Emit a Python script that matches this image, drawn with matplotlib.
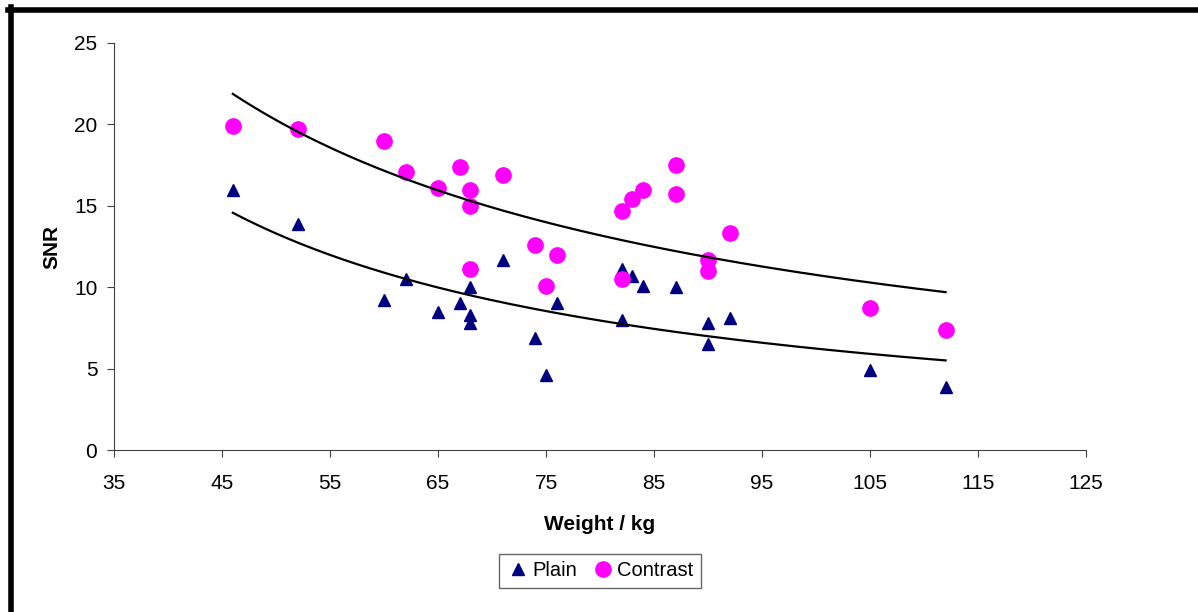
"""
SNR vs peso — serie Plain y Contrast con líneas de tendencia potencial.
"""
import matplotlib
matplotlib.use('Agg')
import matplotlib.pyplot as plt
from matplotlib.lines import Line2D
import numpy as np

plt.rcParams['font.family'] = ['Liberation Sans', 'DejaVu Sans']

# ── Datos (peso kg, SNR) ─────────────────────────────────────────────────────
plain_w = [46, 52, 60, 62, 65, 67, 68, 68, 68, 71, 74, 75, 76,
           82, 82, 83, 84, 87, 90, 90, 92, 105, 112]
plain_snr = [16.0, 13.9, 9.2, 10.5, 8.5, 9.0, 10.0, 8.3, 7.8, 11.7, 6.9, 4.6, 9.0,
             11.1, 8.0, 10.7, 10.1, 10.0, 7.8, 6.5, 8.1, 4.9, 3.9]

contrast_w = [46, 52, 60, 62, 65, 67, 68, 68, 68, 71, 74, 75, 76,
              82, 82, 83, 84, 87, 87, 90, 90, 92, 105, 112]
contrast_snr = [19.9, 19.7, 19.0, 17.1, 16.1, 17.4, 16.0, 15.0, 11.1, 16.9, 12.6, 10.1, 12.0,
                14.7, 10.5, 15.4, 16.0, 17.5, 15.7, 11.7, 11.0, 13.3, 8.7, 7.4]

x_ticks = [35, 45, 55, 65, 75, 85, 95, 105, 115, 125]
y_ticks = [0, 5, 10, 15, 20, 25]


def power_fit(x, y):
    # tendencia tipo Excel: y = a * x^b (ajuste lineal en log-log)
    b, ln_a = np.polyfit(np.log(x), np.log(y), 1)
    xs = np.linspace(min(x), max(x), 200)
    return xs, np.exp(ln_a) * xs ** b


fig = plt.figure(figsize=(11.98, 6.12), dpi=100)
ax = fig.add_axes([114 / 1198, 1 - 450 / 612, 972 / 1198, 407 / 612])

ax.plot(plain_w, plain_snr, '^', color='#000080', markersize=9,
        linestyle='none', label='Plain', zorder=3)
ax.plot(contrast_w, contrast_snr, 'o', color='#FF00FF', markersize=11,
        linestyle='none', label='Contrast', zorder=3)

for x, y in [(plain_w, plain_snr), (contrast_w, contrast_snr)]:
    xs, ys = power_fit(x, y)
    ax.plot(xs, ys, color='black', linewidth=1.6, zorder=4)

ax.set_xlim(35, 125)
ax.set_ylim(0, 25)
ax.set_xticks(x_ticks)
ax.set_yticks(y_ticks)
ax.tick_params(labelsize=15, direction='out', length=5, width=0.8,
               color='#404040')
ax.tick_params(axis='x', pad=12)
ax.tick_params(axis='y', pad=7)
for side in ('top', 'right'):
    ax.spines[side].set_visible(False)
for side in ('left', 'bottom'):
    ax.spines[side].set_color('#404040')
    ax.spines[side].set_linewidth(0.8)

fig.text(600 / 1198, 1 - 525 / 612, 'Weight / kg', fontsize=15,
         fontweight='bold', ha='center', va='center')
fig.text(52 / 1198, 1 - 247 / 612, 'SNR', fontsize=15, fontweight='bold',
         rotation=90, ha='center', va='center')

leg = fig.legend(loc='center', bbox_to_anchor=(600 / 1198, 1 - 571 / 612),
                 ncol=2, fontsize=14.5, frameon=True, fancybox=False,
                 handletextpad=0.1, columnspacing=0.7, handlelength=1.2,
                 borderpad=0.35)
leg.get_frame().set_edgecolor('#404040')
leg.get_frame().set_linewidth(1.0)

# marco grueso arriba e izquierda
fig.add_artist(Line2D([10.5 / 1198, 10.5 / 1198], [0, 1 - 7 / 612],
                      color='black', linewidth=4, transform=fig.transFigure))
fig.add_artist(Line2D([8 / 1198, 1], [1 - 9.5 / 612, 1 - 9.5 / 612],
                      color='black', linewidth=4, transform=fig.transFigure))

fig.savefig('out.png', dpi=100)
